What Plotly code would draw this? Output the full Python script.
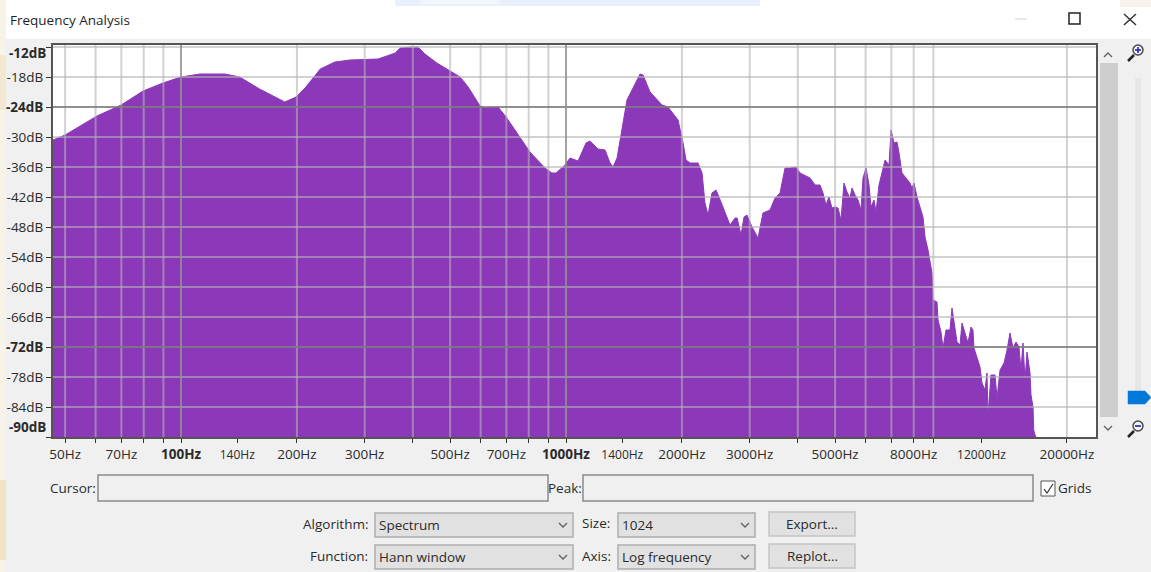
import plotly.graph_objects as go

freq_hz = [46.5, 50, 60.5, 69.9, 79.7, 89.8, 100, 112, 130, 142, 160, 186, 199, 210, 230, 251, 275, 325, 360, 371,
           398, 413, 430, 462, 500, 531, 557, 598, 616, 666, 699, 760, 806, 882, 919, 942, 994, 1024, 1075, 1127,
           1154, 1211, 1263, 1301, 1325, 1357, 1398, 1440, 1484, 1557, 1585, 1653, 1776, 1840, 1954, 1989, 2014,
           2050, 2100, 2203, 2256, 2296, 2338, 2394, 2452, 2497, 2588, 2667, 2748, 2782, 2848, 2900, 2952, 3042,
           3153, 3248, 3387, 3490, 3596, 3706, 3818, 3957, 4054, 4304, 4435, 4568, 4651, 4735, 4820, 4908, 4996,
           5087, 5179, 5273, 5369, 5466, 5532, 5632, 5734, 5838, 5908, 6015, 6124, 6197, 6310, 6386, 6501, 6660,
           6741, 6902, 6986, 7112, 7241, 7328, 7460, 7640, 7824, 7919, 8015, 8160, 8308, 8458, 8561, 8716, 8926,
           8980, 9196, 9252, 9419, 9533, 9705, 9940, 10060, 10180, 10366, 10553, 10680, 10873, 11070, 11270, 11404,
           11473, 11680, 11894, 12036, 12256, 12400, 12476, 12703, 13010, 13168, 13407, 13732, 13981, 14232, 14488,
           14750, 15017, 15198, 15382, 15566, 15755, 16040, 16136, 16331, 16400, 16527, 16627]
level_db = [-30.6, -29.6, -25.8, -23.6, -20.8, -19.2, -18, -17.4, -17.4, -18, -20.4, -23, -22, -20.2, -16.4, -15, -14.6,
            -14.4, -13.2, -12.2, -12, -12, -13.4, -15.2, -16.8, -18, -20, -23.8, -24.2, -24, -26, -30.2, -33, -36.2,
            -37.2, -37.2, -35.6, -34.2, -34.8, -31.2, -30.8, -32.4, -32.6, -35.2, -36, -34.2, -28, -22.6, -20.6, -17.4,
            -17.6, -21, -23.6, -24, -26.6, -29.2, -31.2, -34.6, -35.2, -35.2, -37.2, -43.2, -45.6, -41.2, -40.6, -42,
            -45.2, -47.6, -46.2, -46.2, -49.6, -46, -45.6, -48, -50.2, -45.2, -44.6, -42.2, -41.2, -36.2, -36.2, -36,
            -37.2, -38.2, -39.6, -39.6, -41.2, -43.6, -42, -44.2, -44, -44.2, -46.6, -39.2, -41, -42.2, -40.2, -41.6,
            -42.6, -44.6, -38.2, -36.2, -39.6, -44, -42.6, -45, -39.6, -36.6, -34.6, -35.6, -28.6, -31.2, -31, -33.2,
            -37.2, -38.2, -39.2, -40.2, -39.2, -42, -44.2, -46, -50, -52.6, -57.2, -62.6, -63, -66.6, -69, -72.2, -68.6,
            -68.6, -64.2, -67.2, -71, -71.6, -67.2, -69.2, -71.2, -68, -68.6, -72.2, -74.2, -76, -79.2, -80.6, -77.2,
            -85.6, -77.6, -77.6, -82.2, -76.6, -75.2, -72.6, -69.2, -72.2, -71, -72, -76.6, -71.2, -78.6, -73, -77.2,
            -81.6, -84, -88.6, -89.6, -90]

db_ticks = [-12, -18, -24, -30, -36, -42, -48, -54, -60, -66, -72, -78, -84, -90]
db_labels = ["", "-18dB", "<b>-24dB</b>", "-30dB", "-36dB", "-42dB", "-48dB", "-54dB", "-60dB", "-66dB",
             "<b>-72dB</b>", "-78dB", "-84dB", ""]
db_major = [-24, -72]

hz_ticks = [50, 60, 70, 80, 90, 100, 140, 200, 300, 400, 500, 600, 700, 800, 900, 1000, 1400, 2000, 3000, 4000, 5000,
            6000, 7000, 8000, 9000, 12000, 20000]
hz_labels = {50: "50Hz", 70: "70Hz", 100: "<b>100Hz</b>", 140: '<span style="font-size:12px">140Hz</span>',
             200: "200Hz", 300: "300Hz", 500: "500Hz", 700: "700Hz", 1000: "<b>1000Hz</b>",
             1400: '<span style="font-size:12px">1400Hz</span>', 2000: "2000Hz", 3000: "3000Hz", 5000: "5000Hz",
             8000: "8000Hz", 12000: '<span style="font-size:12px">12000Hz</span>', 20000: "20000Hz"}
hz_major = [100, 1000]
hz_grid = [50, 60, 70, 80, 90, 200, 300, 400, 500, 600, 700, 800, 900, 2000, 3000, 4000, 5000, 6000, 7000, 8000, 9000,
           20000]

TITLE = "Frequency Analysis"
FONT = "Open Sans"
TXT = "#2b2b2b"
W, H = 1151, 572
DB_MIN, DB_MAX = -90, -11.6
LOG_MIN, LOG_MAX = 1.6675, 4.3766
L, R, T, B = 53, 1096, 45, 437


def v_lines(vals):
    xs, ys = [], []
    for v in vals:
        xs += [v, v, None]
        ys += [DB_MIN, DB_MAX, None]
    return xs, ys


def h_lines(vals):
    xs, ys = [], []
    for v in vals:
        xs += [10 ** LOG_MIN, 10 ** LOG_MAX, None]
        ys += [v, v, None]
    return xs, ys


fig = go.Figure()
fig.add_trace(go.Scatter(x=freq_hz, y=[DB_MIN] * len(freq_hz), mode="lines", line=dict(width=0), hoverinfo="skip",
                         showlegend=False))
fig.add_trace(go.Scatter(x=freq_hz, y=level_db, mode="lines", line=dict(width=1, color="#8b39b9"), fill="tonexty",
                         fillcolor="#8b39b9", showlegend=False, name="Spectrum"))

GRID = "rgba(180,180,180,0.6)"
minor_h = [d for d in db_ticks if d not in db_major and d != -90]
mx, my = h_lines(minor_h)
fig.add_trace(go.Scatter(x=mx, y=my, mode="lines", line=dict(width=2, color=GRID), hoverinfo="skip", showlegend=False))
mx, my = v_lines(hz_grid)
fig.add_trace(go.Scatter(x=mx, y=my, mode="lines", line=dict(width=2, color=GRID), hoverinfo="skip", showlegend=False))
mx, my = h_lines(db_major)
fig.add_trace(go.Scatter(x=mx, y=my, mode="lines", line=dict(width=2, color="rgba(125,125,125,0.85)"),
                         hoverinfo="skip", showlegend=False))
mx, my = v_lines(hz_major)
fig.add_trace(go.Scatter(x=mx, y=my, mode="lines", line=dict(width=2, color="rgba(145,145,145,0.85)"),
                         hoverinfo="skip", showlegend=False))

shapes, notes = [], []


def px(x):
    return x / W


def py(y):
    return 1 - y / H


def rect(x0, y0, x1, y1, fill=None, line=None, lw=1):
    shapes.append(dict(type="rect", xref="paper", yref="paper", x0=px(x0), y0=py(y0), x1=px(x1), y1=py(y1),
                       fillcolor=fill or "rgba(0,0,0,0)", line=dict(color=line or "rgba(0,0,0,0)", width=lw if line else 0),
                       layer="above"))


def poly(points, color="#555", lw=1.5, fill=None, closed=False):
    d = "M " + " L ".join(f"{px(a):.5f} {py(b):.5f}" for a, b in points) + (" Z" if closed else "")
    shapes.append(dict(type="path", xref="paper", yref="paper", path=d, line=dict(color=color, width=lw),
                       fillcolor=fill or "rgba(0,0,0,0)", layer="above"))


def label(x, y, s, anchor="left", size=13.5, color=TXT):
    notes.append(dict(xref="paper", yref="paper", x=px(x), y=py(y), text=s, showarrow=False, xanchor=anchor,
                      yanchor="middle", borderpad=0, font=dict(family=FONT, size=size, color=color)))


def chevron(x, y, up=False, color="#666"):
    s = -1 if up else 1
    poly([(x - 4, y - 2 * s), (x, y + 2 * s), (x + 4, y - 2 * s)], color=color, lw=1.4)


def select(x0, y0, x1, y1, s):
    rect(x0, y0, x1, y1, fill="#e1e1e1", line="#adadad", lw=1.5)
    label(x0 + 3, (y0 + y1) / 2, s)
    chevron(x1 - 10, (y0 + y1) / 2)


def button(x0, y0, x1, y1, s):
    rect(x0, y0, x1, y1, fill="#e1e1e1", line="#c4c4c4", lw=1.5)
    label((x0 + x1) / 2, (y0 + y1) / 2, s, anchor="center")


def magnifier(x, y, sign, color):
    poly([(x - 9, y + 9), (x - 3, y + 3)], color="#222", lw=2.5)
    shapes.append(dict(type="circle", xref="paper", yref="paper", x0=px(x - 4), y0=py(y + 3), x1=px(x + 6),
                       y1=py(y - 7), line=dict(color="#444", width=1.4), fillcolor="#f4f4f4", layer="above"))
    poly([(x - 2, y - 2), (x + 4, y - 2)], color=color, lw=1.6)
    if sign:
        poly([(x + 1, y - 5), (x + 1, y + 1)], color=color, lw=1.6)


# desktop behind the window and title bar
rect(0, 0, W, 39, fill="#ffffff")
rect(395, 0, 760, 6, fill="#e8f0fb")
rect(420, 0, 500, 4, fill="#f3f6fb")
rect(1120, 0, W, 7, fill="#f6f1ea")
rect(0, 0, 6, H, fill="#f8f3e8")
rect(0, 55, 6, 110, fill="#f3e7d2")
rect(0, 480, 6, 560, fill="#f1e3c6")
label(9, 20, TITLE, size=13.5, color="#1f1f1f")
poly([(1015, 19), (1027, 19)], color="#e2e2e2")
rect(1069, 13, 1080, 24, line="#222", lw=1.5)
poly([(1124, 14), (1136, 25)], color="#333")
poly([(1136, 14), (1124, 25)], color="#333")

# y labels that sit clear of the plot corners
label(47, 53, "<b>-12dB</b>", anchor="right")
label(47, 427, "<b>-90dB</b>", anchor="right")

# vertical scrollbar and zoom slider
rect(1100, 63, 1118, 417, fill="#cdcdcd")
chevron(1108, 55, up=True)
chevron(1108, 428)
rect(1135, 78, 1141, 391, fill="#e6e6e6")
poly([(1128, 391), (1145, 391), (1151, 397.5), (1145, 404), (1128, 404)], color="#0078d7", lw=0.5, fill="#0078d7",
     closed=True)
magnifier(1137, 52, True, "#2222cc")
magnifier(1137, 428, False, "#2222aa")

# cursor / peak row
label(97, 488, "Cursor:", anchor="right")
rect(98, 475, 548, 501, fill="#f0f0f0", line="#8a8a8a", lw=1.5)
label(547, 488, "Peak:")
rect(583, 475, 1033, 501, fill="#f0f0f0", line="#8a8a8a", lw=1.5)
rect(1041, 481, 1055, 496, fill="#ffffff", line="#555555", lw=1)
poly([(1044, 489), (1047, 493), (1053, 484)], color="#333", lw=1.2)
label(1057, 488, "Grids")

# option rows
label(369, 524, "Algorithm:", anchor="right")
select(375, 513, 573, 537, "Spectrum")
label(369, 556, "Function:", anchor="right")
select(375, 545, 573, 569, "Hann window")
label(581, 523, "Size:")
select(618, 513, 755, 537, "1024")
label(581, 556, "Axis:")
select(618, 545, 755, 569, "Log frequency")
button(769, 512, 855, 536, "Export...")
button(769, 544, 855, 568, "Replot...")

fig.update_layout(
    width=W, height=H, autosize=False, margin=dict(l=0, r=0, t=0, b=0, pad=0),
    paper_bgcolor="#f0f0f0", plot_bgcolor="#ffffff", showlegend=False,
    font=dict(family=FONT, size=13.5, color=TXT), shapes=shapes, annotations=notes,
    xaxis=dict(type="log", domain=[L / W, R / W], automargin=False, range=[LOG_MIN, LOG_MAX], tickmode="array",
               tickvals=hz_ticks, ticktext=[hz_labels.get(v, "") for v in hz_ticks], ticks="outside", ticklen=4,
               tickcolor="#333", tickwidth=1, showgrid=False, zeroline=False, showline=True, linecolor="#555",
               linewidth=2, mirror=True, tickangle=0, tickfont=dict(family=FONT, size=13.5, color=TXT)),
    yaxis=dict(domain=[1 - B / H, 1 - T / H], automargin=False, range=[DB_MIN, DB_MAX], tickmode="array",
               tickvals=db_ticks, ticktext=db_labels, ticks="outside", ticklen=5, tickcolor="#333", tickwidth=1,
               showgrid=False, zeroline=False, showline=True, linecolor="#555", linewidth=2, mirror=True,
               tickfont=dict(family=FONT, size=13.5, color=TXT)),
)

fig.write_html("out.html", config=dict(displayModeBar=False),
               post_script="document.body.style.margin='0';document.body.style.overflow='hidden';")
